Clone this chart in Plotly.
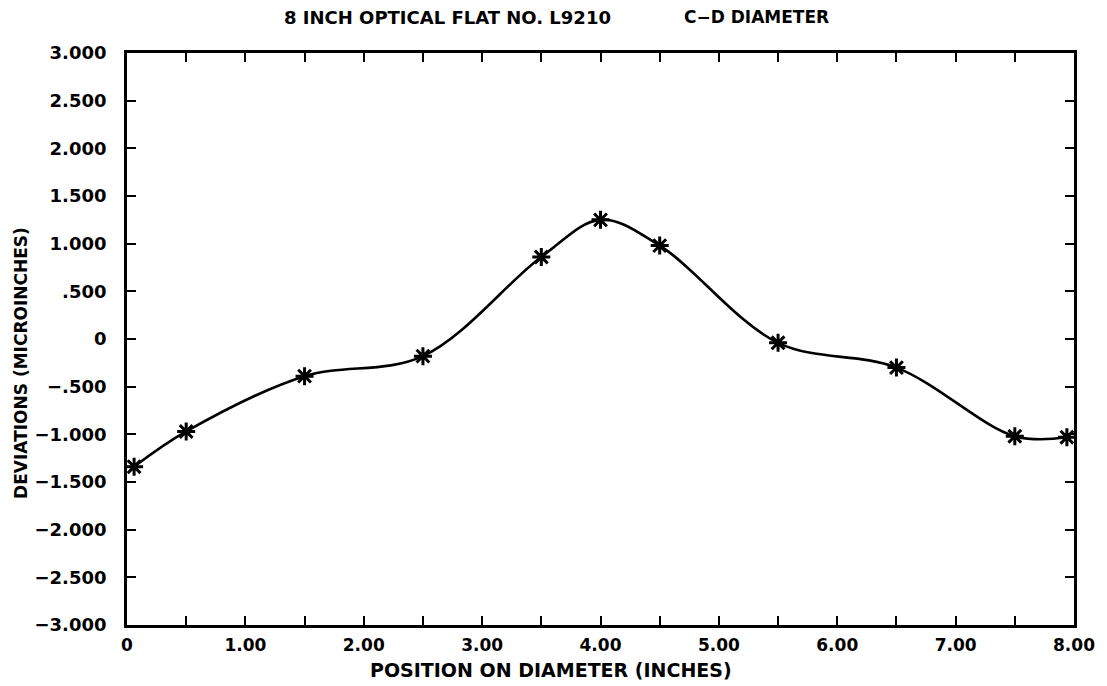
import plotly.graph_objects as go

# Data
position_in = [0.06, 0.5, 1.5, 2.5, 3.5, 4.0, 4.5, 5.5, 6.5, 7.5, 7.94]
deviation_uin = [-1.34, -0.97, -0.39, -0.18, 0.86, 1.25, 0.98, -0.04, -0.30, -1.02, -1.03]

y_tickvals = [3.0, 2.5, 2.0, 1.5, 1.0, 0.5, 0.0, -0.5, -1.0, -1.5, -2.0, -2.5, -3.0]
y_ticktext = ["3.000", "2.500", "2.000", "1.500", "1.000", ".500", "0", "\u2212.500",
              "\u22121.000", "\u22121.500", "\u22122.000", "\u22122.500", "\u22123.000"]
x_tickvals = [0, 0.5, 1, 1.5, 2, 2.5, 3, 3.5, 4, 4.5, 5, 5.5, 6, 6.5, 7, 7.5, 8]
x_ticktext = ["0", "", "1.00", "", "2.00", "", "3.00", "", "4.00", "", "5.00", "", "6.00", "", "7.00", "", "8.00"]

title_left = "8 INCH OPTICAL FLAT NO. L9210"
title_right = "C\u2212D DIAMETER"
x_title = "POSITION ON DIAMETER (INCHES)"
y_title = "DEVIATIONS (MICROINCHES)"

FONT = "DejaVu Sans"

fig = go.Figure()
fig.add_trace(go.Scatter(
    x=position_in, y=deviation_uin,
    mode="lines+markers",
    line=dict(color="black", width=2.6, shape="spline", smoothing=1.0),
    marker=dict(symbol="asterisk-open", size=15, color="black",
                line=dict(color="black", width=3)),
    showlegend=False,
))

W, H = 1107, 686
L, R, T, B = 127, 25, 53, 61
pw = W - L - R
ph = H - T - B

def px_x(px):
    return (px - L) / pw

def px_y(py):
    return (H - B - py) / ph

axis_common = dict(
    showline=True, linecolor="black", linewidth=2.8, mirror="ticks",
    ticks="inside", ticklen=9, tickwidth=2.4, tickcolor="black",
    showgrid=False, zeroline=False,
)

fig.update_layout(
    width=W, height=H,
    margin=dict(l=L, r=R, t=T, b=B),
    paper_bgcolor="white", plot_bgcolor="white",
    xaxis=dict(range=[0, 8], tickmode="array", tickvals=x_tickvals, ticktext=x_ticktext,
               ticklabelstandoff=3,
               tickfont=dict(family=FONT, size=17, color="black", weight="bold"),
               **axis_common),
    yaxis=dict(range=[-3, 3], tickmode="array", tickvals=y_tickvals, ticktext=y_ticktext,
               ticklabelstandoff=14,
               tickfont=dict(family=FONT, size=18, color="black", weight="bold"),
               **axis_common),
    annotations=[
        dict(text=title_left, xref="paper", yref="paper", x=px_x(450), y=px_y(17),
             xanchor="center", yanchor="middle", showarrow=False,
             font=dict(family=FONT, size=18, color="black", weight="bold")),
        dict(text=title_right, xref="paper", yref="paper", x=px_x(762), y=px_y(17),
             xanchor="center", yanchor="middle", showarrow=False,
             font=dict(family=FONT, size=17, color="black", weight="bold")),
        dict(text=x_title, xref="paper", yref="paper", x=px_x(555), y=px_y(670),
             xanchor="center", yanchor="middle", showarrow=False,
             font=dict(family=FONT, size=19, color="black", weight="bold")),
        dict(text=y_title, xref="paper", yref="paper", x=px_x(20), y=px_y(363),
             xanchor="center", yanchor="middle", showarrow=False, textangle=-90,
             font=dict(family=FONT, size=17, color="black", weight="bold")),
    ],
)

fig.write_html("out.html", config={"displayModeBar": False})
